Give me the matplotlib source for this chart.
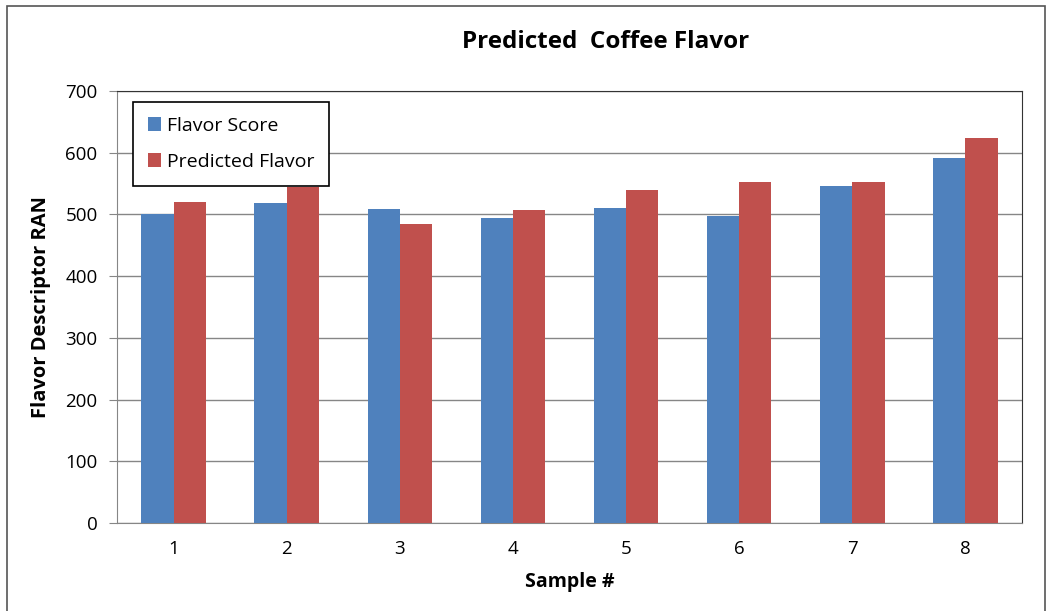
import matplotlib.pyplot as plt
import numpy as np
from matplotlib.patches import Rectangle

# Data
samples = ["1", "2", "3", "4", "5", "6", "7", "8"]
flavor_score = [500, 518, 509, 494, 510, 497, 546, 591]
predicted_flavor = [520, 545, 485, 507, 540, 553, 553, 624]

plt.rcParams['font.family'] = ['Open Sans', 'DejaVu Sans']

fig = plt.figure(figsize=(10.51, 6.11), dpi=100)
ax = fig.add_axes([0.1113, 0.144, 0.8611, 0.707])

x = np.arange(len(samples))
w = 0.285
ax.bar(x - w / 2, flavor_score, w, color="#4F81BD", label="Flavor Score", zorder=3)
ax.bar(x + w / 2, predicted_flavor, w, color="#C0504D", label="Predicted Flavor", zorder=3)

ax.set_xlim(-0.5, len(samples) - 0.5)
ax.set_ylim(0, 700)
ax.set_yticks(range(0, 701, 100))
ax.set_xticks(x)
ax.set_xticklabels(samples)
ax.tick_params(axis='y', length=6, color="#868686", labelsize=13.5, pad=8)
ax.tick_params(axis='x', length=0, labelsize=13.5, pad=12)
ax.grid(axis='y', color="#868686", linewidth=1, zorder=0)

for side in ['top', 'right']:
    ax.spines[side].set_color("#333333")
for side in ['left', 'bottom']:
    ax.spines[side].set_color("#868686")

ax.set_xlabel("Sample #", fontsize=14, fontweight='bold', labelpad=10)
ax.set_ylabel("Flavor Descriptor RAN", fontsize=14.5, fontweight='bold', labelpad=10)
fig.text(0.576, 0.932, "Predicted  Coffee Flavor", ha='center', va='center',
         fontsize=17.5, fontweight='bold')

leg = ax.legend(loc='upper left', bbox_to_anchor=(0.0177, 0.9745), borderaxespad=0,
                fontsize=14, fancybox=False, framealpha=1, edgecolor='black',
                handlelength=0.7, handleheight=0.7, handletextpad=0.3,
                labelspacing=0.95, borderpad=0.75)
leg.get_frame().set_linewidth(1.2)

# outer chart border
fig.patches.append(Rectangle((0.007, -0.02), 0.987, 1.01, transform=fig.transFigure,
                             fill=False, edgecolor="#555555", linewidth=1.2))

fig.savefig("out.png", dpi=100)
